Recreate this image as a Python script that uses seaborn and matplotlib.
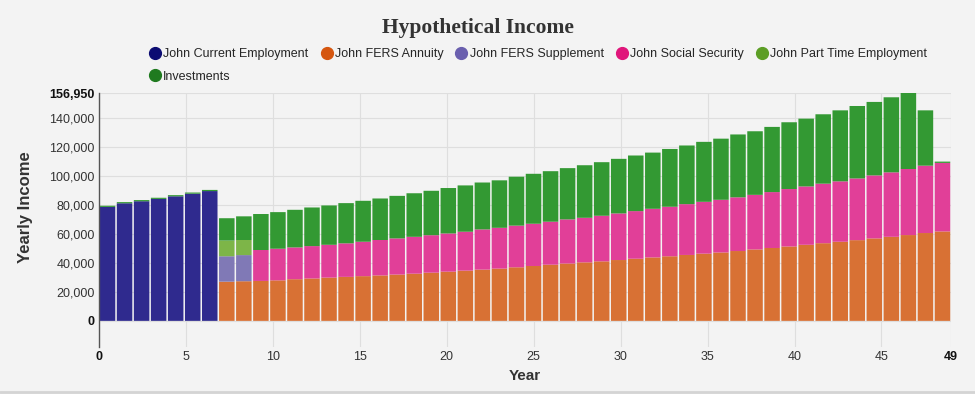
import matplotlib
matplotlib.use("Agg")
import matplotlib.pyplot as plt
import seaborn as sns
import pandas as pd
from matplotlib.lines import Line2D
from matplotlib.ticker import FuncFormatter

# yearly income by source, year index 0..49
years_employment = list(range(0, 7))
current_employment = [78500, 81000, 82400, 84000, 85800, 87600, 89400]

years_annuity = list(range(7, 50))
fers_annuity = [27000, 27300, 27500, 27900, 28700, 29200, 29800, 30300, 30800, 31300,
                31900, 32500, 33200, 33900, 34600, 35300, 36000, 36900, 37800, 38700,
                39500, 40300, 41000, 41900, 42800, 43700, 44500, 45400, 46300, 47100,
                48100, 49200, 50200, 51250, 52400, 53500, 54500, 55600, 56800, 57900,
                59100, 60500, 61600]

years_supplement = [7, 8]
fers_supplement = [17500, 18000]

years_social = list(range(9, 50))
social_security = [21300, 21800, 21900, 22300, 22600, 23100, 23700, 24400,
                   24900, 25400, 25800, 26300, 26800, 27700, 28100, 28700, 29100, 29600,
                   30400, 30700, 31400, 32100, 32800, 33500, 34100, 35000, 35700, 36300,
                   37000, 37600, 38500, 39550, 40200, 41000, 41600, 42500, 43400, 44400,
                   45500, 46400, 47200]

years_part_time = [7, 8]
part_time = [10800, 10400]

years_investments = list(range(0, 50))
investments = [800, 800, 800, 800, 800, 800, 800,
               15400, 16300,
               24800, 25200, 25900, 26600, 27100, 27700, 28200, 28600,
               29300, 30000, 30600, 31300, 31900, 32300, 32700, 33700, 34400, 34800,
               35300, 36200, 36900, 37600, 38300, 38700, 39800, 40400, 41300, 42100,
               43300, 43800, 44900, 46000, 46700, 47800, 48900, 49900, 50600, 51700,
               52350, 38100, 900]

labels = ["John Current Employment", "John FERS Annuity", "John FERS Supplement",
          "John Social Security", "John Part Time Employment", "Investments"]
bar_colors = ["#2f2a8e", "#d87134", "#8079b6", "#e13f98", "#7db548", "#339933"]
legend_colors = ["#0c0c72", "#d5560f", "#6a5fae", "#e0167b", "#5c9e25", "#1f7a1f"]

series = [
    (labels[0], years_employment, current_employment),
    (labels[1], years_annuity, fers_annuity),
    (labels[2], years_supplement, fers_supplement),
    (labels[3], years_social, social_security),
    (labels[4], years_part_time, part_time),
    (labels[5], years_investments, investments),
]
rows = []
for name, yrs, vals in series:
    for y, v in zip(yrs, vals):
        rows.append((y, name, v))
df = pd.DataFrame(rows, columns=["year", "source", "income"])
ymax = df.groupby("year")["income"].sum().max()

sns.set_theme(style="whitegrid")
plt.rcParams["font.family"] = ["Liberation Sans", "DejaVu Sans"]

bg = "#f3f3f3"
fig = plt.figure(figsize=(9.75, 3.94), dpi=100, facecolor=bg)
ax = fig.add_axes([99 / 975, 47 / 394, 852 / 975, 254 / 394], facecolor=bg)

# seaborn stacks the last hue level at the bottom
stack_order = labels[::-1]
sns.histplot(data=df, x="year", weights="income", hue="source", hue_order=stack_order,
             multiple="stack", bins=50, binrange=(0, 49), shrink=0.91,
             palette=dict(zip(labels, bar_colors)), alpha=1, linewidth=0,
             edgecolor="none", legend=False, ax=ax)
for p in ax.patches:
    p.set_snap(False)

ax.set_xlim(0, 49)
ax.set_ylim(-18000, ymax)
xt = [0, 5, 10, 15, 20, 25, 30, 35, 40, 45, 49]
yt = [0, 20000, 40000, 60000, 80000, 100000, 120000, 140000, ymax]
ax.set_xticks(xt)
ax.set_yticks(yt)
ax.yaxis.set_major_formatter(FuncFormatter(lambda v, p: f"{int(v):,}"))
ax.tick_params(length=0, labelsize=9, colors="#333333", pad=3)
for lab in [ax.get_xticklabels()[0], ax.get_xticklabels()[-1],
            ax.get_yticklabels()[0], ax.get_yticklabels()[-1]]:
    lab.set_fontweight("bold")
    lab.set_color("#111111")

ax.grid(True, color="#dedede", linewidth=0.8)
ax.set_axisbelow(True)
for s in ["top", "right", "bottom"]:
    ax.spines[s].set_visible(False)
ax.spines["left"].set_color("#555555")
ax.spines["left"].set_linewidth(1)

ax.set_ylabel("Yearly Income", fontsize=12, fontweight="bold", color="#333333")
ax.yaxis.set_label_coords(-0.077, 0.55)
ax.set_xlabel("Year", fontsize=11, fontweight="bold", color="#333333")
ax.xaxis.set_label_coords(0.5, -0.085)

fig.text(0.49, 0.916, "Hypothetical Income", family=["Liberation Serif", "DejaVu Serif"],
         fontweight="bold", fontsize=15.5, ha="center", va="baseline", color="#333333")

# legend: Investments falls under the first entry
order = [0, 5, 1, 2, 3, 4]
handles = [Line2D([], [], marker="o", linestyle="none", markersize=8.5,
                  color=legend_colors[i]) for i in order]
fig.legend(handles, [labels[i] for i in order], loc="upper left",
           bbox_to_anchor=(150 / 975, 1 - 48 / 394), ncol=5, frameon=False, fontsize=9,
           handlelength=0.8, handletextpad=0.25, columnspacing=1.05, labelspacing=0.85,
           borderpad=0, borderaxespad=0)

fig.add_artist(Line2D([0, 1], [0.004, 0.004], color="#d4d4d4", linewidth=2,
                      transform=fig.transFigure))

fig.savefig("out.png", dpi=100, facecolor=bg)
